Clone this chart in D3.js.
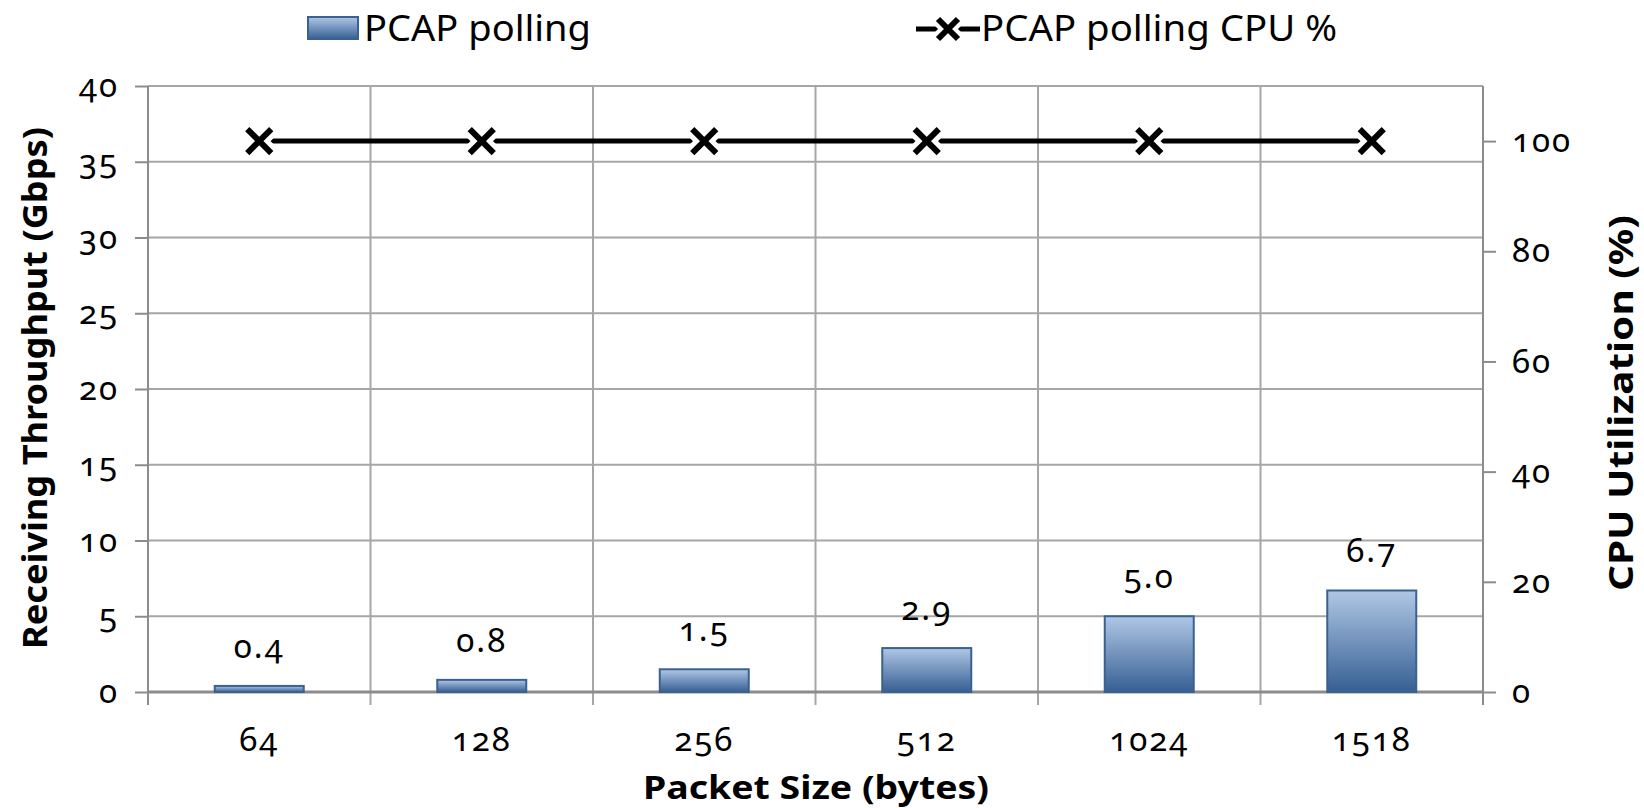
<!DOCTYPE html>
<html>
<head>
<meta charset="utf-8">
<script src="https://cdn.jsdelivr.net/npm/d3@7"></script>
<style>
  html, body { margin: 0; padding: 0; background: #fff; }
  svg { display: block; }
  text { font-family: "Noto Sans", "Open Sans", sans-serif; fill: #000; }
  .num { font-variant-numeric: oldstyle-nums; font-feature-settings: "onum" 1; letter-spacing: 2px; }
</style>
</head>
<body>
<svg id="chart" width="1644" height="808"></svg>
<script>
const categories = ["64", "128", "256", "512", "1024", "1518"];
const throughput = [0.4, 0.8, 1.5, 2.9, 5.0, 6.7];
const cpuPercent = [100, 100, 100, 100, 100, 100];
const leftTicks = [0, 5, 10, 15, 20, 25, 30, 35, 40];
const rightTicks = [0, 20, 40, 60, 80, 100];
const seriesNames = ["PCAP polling", "PCAP polling CPU %"];
const axisTitles = { x: "Packet Size (bytes)", yLeft: "Receiving Throughput (Gbps)", yRight: "CPU Utilization (%)" };

const svg = d3.select("#chart");
const m = { left: 148, right: 1483, top: 86, bottom: 692 };

const x = d3.scaleBand().domain(categories).range([m.left, m.right]).padding(0);
const yL = d3.scaleLinear().domain([0, 40]).range([m.bottom, m.top]);
const yR = d3.scaleLinear().domain([0, 110]).range([m.bottom, m.top]);

const gridColor = "#a6a6a6";
const axisColor = "#8c8c8c";

const defs = svg.append("defs");
const grad = defs.append("linearGradient").attr("id", "barGrad").attr("x1", 0).attr("y1", 0).attr("x2", 0).attr("y2", 1);
grad.append("stop").attr("offset", "0%").attr("stop-color", "#b0c7e5");
grad.append("stop").attr("offset", "100%").attr("stop-color", "#365f93");

// horizontal gridlines
svg.append("g").selectAll("line").data(leftTicks.slice(1)).join("line")
  .attr("x1", m.left).attr("x2", m.right)
  .attr("y1", d => yL(d)).attr("y2", d => yL(d))
  .attr("stroke", gridColor).attr("stroke-width", 2);

// vertical gridlines at category boundaries, extending below the axis as ticks
const bounds = categories.map(c => x(c)).concat([m.right]);
svg.append("g").selectAll("line").data(bounds).join("line")
  .attr("x1", d => d).attr("x2", d => d)
  .attr("y1", m.top).attr("y2", m.bottom + 13)
  .attr("stroke", gridColor).attr("stroke-width", 2);

// left axis
const leftAxis = d3.axisLeft(yL).tickValues(leftTicks).tickSize(13).tickPadding(16);
const gL = svg.append("g").attr("transform", `translate(${m.left},0)`).call(leftAxis);
gL.select(".domain").attr("stroke", axisColor).attr("stroke-width", 2).attr("d", `M-0,${m.top}V${m.bottom + 13}`);
gL.selectAll(".tick line").attr("stroke", axisColor).attr("stroke-width", 2);
gL.selectAll(".tick text").attr("class", "num").style("font-size", "33px").attr("fill", "#000");

// right axis
const rightAxis = d3.axisRight(yR).tickValues(rightTicks).tickSize(13).tickPadding(16);
const gR = svg.append("g").attr("transform", `translate(${m.right},0)`).call(rightAxis);
gR.select(".domain").attr("stroke", axisColor).attr("stroke-width", 2).attr("d", `M0,${m.top}V${m.bottom + 13}`);
gR.selectAll(".tick line").attr("stroke", axisColor).attr("stroke-width", 2);
gR.selectAll(".tick text").attr("class", "num").style("font-size", "33px").attr("fill", "#000");

// bottom axis
const bottomAxis = d3.axisBottom(x).tickSize(0).tickPadding(36);
const gB = svg.append("g").attr("transform", `translate(0,${m.bottom})`).call(bottomAxis);
gB.select(".domain").attr("stroke", axisColor).attr("stroke-width", 3).attr("d", `M${m.left},0H${m.right}`);
gB.selectAll(".tick text").attr("class", "num").style("font-size", "33px").attr("fill", "#000");

// bars
const barW = x.bandwidth() * 0.4;
svg.append("g").selectAll("rect").data(throughput).join("rect")
  .attr("x", (d, i) => x(categories[i]) + (x.bandwidth() - barW) / 2)
  .attr("y", d => yL(d))
  .attr("width", barW)
  .attr("height", d => yL(0) - yL(d))
  .attr("fill", "url(#barGrad)")
  .attr("stroke", "#3b6193").attr("stroke-width", 2);

// data labels
svg.append("g").selectAll("text").data(throughput).join("text")
  .attr("class", "num")
  .attr("x", (d, i) => x(categories[i]) + x.bandwidth() / 2)
  .attr("y", d => yL(d) - 28)
  .attr("text-anchor", "middle")
  .style("font-size", "33px")
  .text(d => d3.format(".1f")(d));

// CPU line
const cx = (i) => x(categories[i]) + x.bandwidth() / 2;
const line = d3.line().x((d, i) => cx(i)).y(d => yR(d));
svg.append("path").datum(cpuPercent).attr("d", line)
  .attr("fill", "none").attr("stroke", "#000").attr("stroke-width", 5);

const xMark = (px, py, s) => `M${px - s},${py - s}L${px + s},${py + s}M${px - s},${py + s}L${px + s},${py - s}`;
const mk = svg.append("g");
mk.selectAll("path.halo").data(cpuPercent).join("path").attr("class", "halo")
  .attr("d", (d, i) => xMark(cx(i), yR(d), 12))
  .attr("stroke", "#fff").attr("stroke-width", 16).attr("fill", "none");
mk.selectAll("path.mark").data(cpuPercent).join("path").attr("class", "mark")
  .attr("d", (d, i) => xMark(cx(i), yR(d), 12))
  .attr("stroke", "#000").attr("stroke-width", 6).attr("fill", "none");

// axis titles
svg.append("text").attr("x", 816).attr("y", 799).attr("text-anchor", "middle")
  .style("font-size", "33px").style("font-weight", "bold")
  .attr("textLength", 346).attr("lengthAdjust", "spacingAndGlyphs").text(axisTitles.x);
svg.append("text").attr("transform", "translate(47,388) rotate(-90)").attr("text-anchor", "middle")
  .style("font-size", "34px").style("font-weight", "bold")
  .attr("textLength", 522).attr("lengthAdjust", "spacingAndGlyphs").text(axisTitles.yLeft);
svg.append("text").attr("transform", "translate(1633,403) rotate(-90)").attr("text-anchor", "middle")
  .style("font-size", "34px").style("font-weight", "bold")
  .attr("textLength", 376).attr("lengthAdjust", "spacingAndGlyphs").text(axisTitles.yRight);

// legend
const lg = svg.append("g");
lg.append("rect").attr("x", 308).attr("y", 17).attr("width", 50).attr("height", 22)
  .attr("fill", "url(#barGrad)").attr("stroke", "#3b6193").attr("stroke-width", 2);
lg.append("text").attr("x", 364).attr("y", 41).style("font-size", "36px")
  .attr("textLength", 227).attr("lengthAdjust", "spacingAndGlyphs").text(seriesNames[0]);
lg.append("line").attr("x1", 916).attr("x2", 980).attr("y1", 29).attr("y2", 29).attr("stroke", "#000").attr("stroke-width", 5);
lg.append("path").attr("d", xMark(948, 29, 10)).attr("stroke", "#fff").attr("stroke-width", 14).attr("fill", "none");
lg.append("path").attr("d", xMark(948, 29, 10)).attr("stroke", "#000").attr("stroke-width", 6).attr("fill", "none");
lg.append("text").attr("x", 981).attr("y", 41).style("font-size", "36px")
  .attr("textLength", 356).attr("lengthAdjust", "spacingAndGlyphs").text(seriesNames[1]);
</script>
</body>
</html>
